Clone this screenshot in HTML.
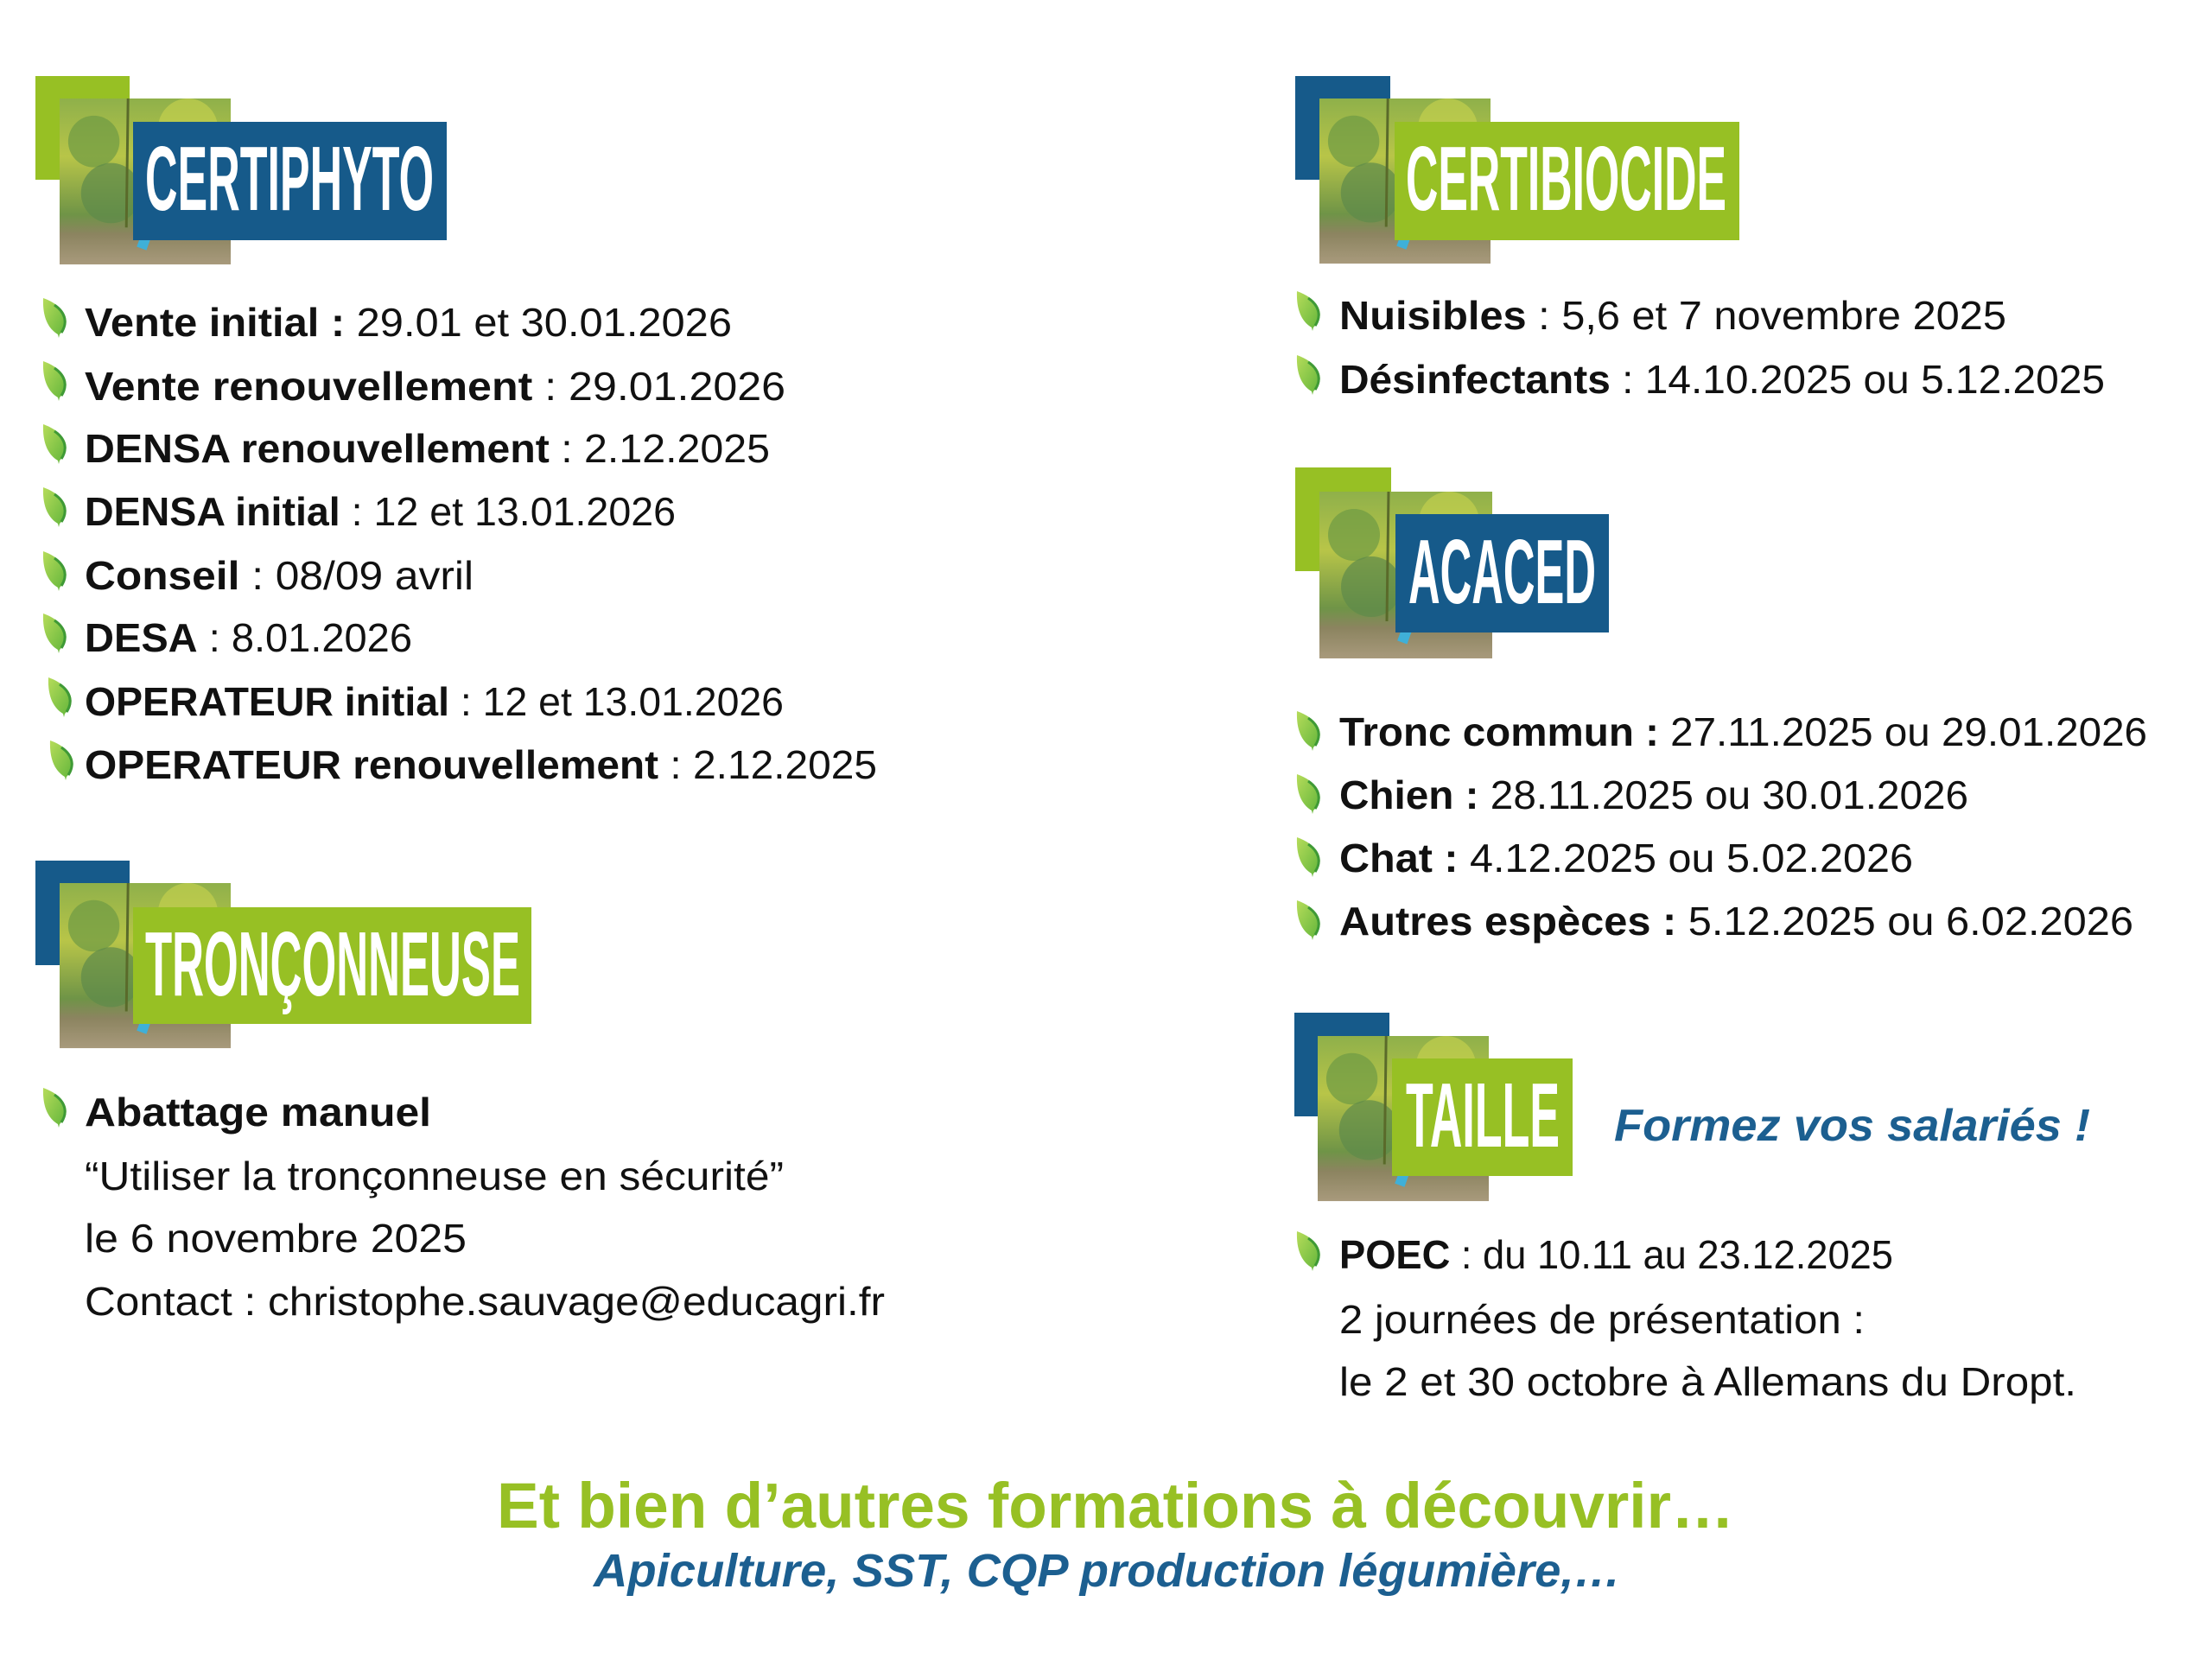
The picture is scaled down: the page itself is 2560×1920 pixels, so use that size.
<!DOCTYPE html>
<html><head><meta charset="utf-8"><style>
html,body{margin:0;padding:0;background:#fff;}
svg{display:block;}
.b{font-family:"Liberation Sans",sans-serif;font-size:46px;fill:#111;}
.bd{font-weight:bold;}
.h{font-family:"Liberation Sans",sans-serif;font-weight:bold;font-size:106px;fill:#fff;}
</style></head><body>
<svg width="2560" height="1920" viewBox="0 0 2560 1920" xmlns="http://www.w3.org/2000/svg">
<defs>
<linearGradient id="lg" x1="0" y1="0" x2="1" y2="1"><stop offset="0" stop-color="#b6dc5a"/><stop offset="1" stop-color="#5fb43a"/></linearGradient>
<linearGradient id="ph" x1="0" y1="0" x2="0" y2="1">
<stop offset="0" stop-color="#8fb04a"/><stop offset="0.35" stop-color="#b8c548"/><stop offset="0.7" stop-color="#6f9447"/><stop offset="0.82" stop-color="#8c8460"/><stop offset="1" stop-color="#a89a7c"/></linearGradient>
<g id="leaf"><path d="M1,0 C18,6 31,18 27,32 C25,37 22,40 20,42 L19,46 L18,42 C8,36 0,24 1,0 Z" fill="url(#lg)"/><path d="M14,8 C26,16 30,28 22,40" fill="none" stroke="#3f9a36" stroke-width="3"/></g>
<g id="photo">
<rect x="0" y="0" width="200" height="193" fill="url(#ph)"/>
<circle cx="40" cy="50" r="30" fill="#6e9a45" opacity="0.7"/>
<circle cx="150" cy="35" r="35" fill="#c9d34e" opacity="0.6"/>
<circle cx="60" cy="110" r="35" fill="#5e8a4a" opacity="0.7"/>
<circle cx="130" cy="100" r="30" fill="#86a84a" opacity="0.6"/>
<line x1="80" y1="0" x2="78" y2="150" stroke="#5a6a2a" stroke-width="3"/>
<rect x="95" y="150" width="12" height="25" fill="#3fb0d8" transform="rotate(20 100 160)"/>
</g>
</defs>

<rect x="41" y="88" width="109" height="120" fill="#97c024"/>
<use href="#photo" transform="translate(69,114) scale(0.99,0.995)"/>
<rect x="154" y="141" width="363" height="137" fill="#165a8a"/>
<text class="h" x="168" y="243" textLength="334" lengthAdjust="spacingAndGlyphs">CERTIPHYTO</text>

<g class="b">
<use href="#leaf" x="49" y="345"/>
<text x="98" y="389" textLength="749" lengthAdjust="spacingAndGlyphs"><tspan class="bd">Vente initial :</tspan> 29.01 et 30.01.2026</text>
<use href="#leaf" x="49" y="418"/>
<text x="98" y="463" textLength="811" lengthAdjust="spacingAndGlyphs"><tspan class="bd">Vente renouvellement</tspan> :  29.01.2026</text>
<use href="#leaf" x="49" y="491"/>
<text x="98" y="535" textLength="793" lengthAdjust="spacingAndGlyphs"><tspan class="bd">DENSA renouvellement</tspan> : 2.12.2025</text>
<use href="#leaf" x="49" y="564"/>
<text x="98" y="608" textLength="684" lengthAdjust="spacingAndGlyphs"><tspan class="bd">DENSA initial</tspan> : 12 et 13.01.2026</text>
<use href="#leaf" x="49" y="638"/>
<text x="98" y="682" textLength="450" lengthAdjust="spacingAndGlyphs"><tspan class="bd">Conseil</tspan> : 08/09 avril</text>
<use href="#leaf" x="49" y="710"/>
<text x="98" y="754" textLength="379" lengthAdjust="spacingAndGlyphs"><tspan class="bd">DESA</tspan> : 8.01.2026</text>
<use href="#leaf" x="55" y="784"/>
<text x="98" y="828" textLength="809" lengthAdjust="spacingAndGlyphs"><tspan class="bd">OPERATEUR initial</tspan> : 12 et 13.01.2026</text>
<use href="#leaf" x="57" y="857"/>
<text x="98" y="901" textLength="917" lengthAdjust="spacingAndGlyphs"><tspan class="bd">OPERATEUR renouvellement</tspan> : 2.12.2025</text>
</g>

<rect x="41" y="996" width="109" height="121" fill="#165a8a"/>
<use href="#photo" transform="translate(69,1022) scale(0.99,0.99)"/>
<rect x="154" y="1050" width="461" height="135" fill="#97c024"/>
<text class="h" x="168" y="1152" textLength="434" lengthAdjust="spacingAndGlyphs">TRONÇONNEUSE</text>

<g class="b">
<use href="#leaf" x="49" y="1259"/>
<text x="98" y="1303" textLength="401" lengthAdjust="spacingAndGlyphs" class="bd">Abattage manuel</text>
<text x="98" y="1377" textLength="809" lengthAdjust="spacingAndGlyphs">“Utiliser la tronçonneuse en sécurité”</text>
<text x="98" y="1449" textLength="442" lengthAdjust="spacingAndGlyphs">le 6 novembre 2025</text>
<text x="98" y="1522" textLength="926" lengthAdjust="spacingAndGlyphs">Contact : christophe.sauvage@educagri.fr</text>
</g>

<rect x="1499" y="88" width="110" height="120" fill="#165a8a"/>
<use href="#photo" transform="translate(1527,114) scale(0.99,0.99)"/>
<rect x="1614" y="141" width="399" height="137" fill="#97c024"/>
<text class="h" x="1627" y="243" textLength="371" lengthAdjust="spacingAndGlyphs">CERTIBIOCIDE</text>

<g class="b">
<use href="#leaf" x="1500" y="337"/>
<text x="1550" y="381" textLength="772" lengthAdjust="spacingAndGlyphs"><tspan class="bd">Nuisibles</tspan> : 5,6 et 7 novembre 2025</text>
<use href="#leaf" x="1500" y="411"/>
<text x="1550" y="455" textLength="886" lengthAdjust="spacingAndGlyphs"><tspan class="bd">Désinfectants</tspan> : 14.10.2025 ou 5.12.2025</text>
</g>

<rect x="1499" y="541" width="111" height="120" fill="#97c024"/>
<use href="#photo" transform="translate(1527,569) scale(1.0,1.0)"/>
<rect x="1615" y="595" width="247" height="137" fill="#165a8a"/>
<text class="h" x="1630" y="698" textLength="217" lengthAdjust="spacingAndGlyphs">ACACED</text>

<g class="b">
<use href="#leaf" x="1500" y="823"/>
<text x="1550" y="863" textLength="935" lengthAdjust="spacingAndGlyphs"><tspan class="bd">Tronc commun :</tspan> 27.11.2025 ou 29.01.2026</text>
<use href="#leaf" x="1500" y="896"/>
<text x="1550" y="936" textLength="728" lengthAdjust="spacingAndGlyphs"><tspan class="bd">Chien :</tspan> 28.11.2025 ou 30.01.2026</text>
<use href="#leaf" x="1500" y="969"/>
<text x="1550" y="1009" textLength="664" lengthAdjust="spacingAndGlyphs"><tspan class="bd">Chat :</tspan> 4.12.2025 ou 5.02.2026</text>
<use href="#leaf" x="1500" y="1042"/>
<text x="1550" y="1082" textLength="919" lengthAdjust="spacingAndGlyphs"><tspan class="bd">Autres espèces :</tspan> 5.12.2025 ou 6.02.2026</text>
</g>

<rect x="1498" y="1172" width="110" height="120" fill="#165a8a"/>
<use href="#photo" transform="translate(1525,1199) scale(0.99,0.99)"/>
<rect x="1611" y="1225" width="209" height="136" fill="#97c024"/>
<text class="h" x="1627" y="1327" textLength="178" lengthAdjust="spacingAndGlyphs">TAILLE</text>
<text x="1868" y="1320" textLength="551" lengthAdjust="spacingAndGlyphs" style="font-family:'Liberation Sans',sans-serif;font-weight:bold;font-style:italic;font-size:52px;fill:#1c5f90">Formez vos salariés !</text>

<g class="b">
<use href="#leaf" x="1500" y="1425"/>
<text x="1550" y="1468" textLength="641" lengthAdjust="spacingAndGlyphs"><tspan class="bd">POEC</tspan> : du 10.11 au 23.12.2025</text>
<text x="1550" y="1543" textLength="608" lengthAdjust="spacingAndGlyphs">2 journées de présentation :</text>
<text x="1550" y="1615" textLength="853" lengthAdjust="spacingAndGlyphs">le 2 et 30 octobre à Allemans du Dropt.</text>
</g>

<text x="575" y="1768" textLength="1432" lengthAdjust="spacingAndGlyphs" style="font-family:'Liberation Sans',sans-serif;font-weight:bold;font-size:74px;fill:#97c024">Et bien d’autres formations à découvrir…</text>
<text x="687" y="1836" textLength="1189" lengthAdjust="spacingAndGlyphs" style="font-family:'Liberation Sans',sans-serif;font-weight:bold;font-style:italic;font-size:54px;fill:#1c5f90">Apiculture, SST, CQP production légumière,…</text>
</svg>
</body></html>
